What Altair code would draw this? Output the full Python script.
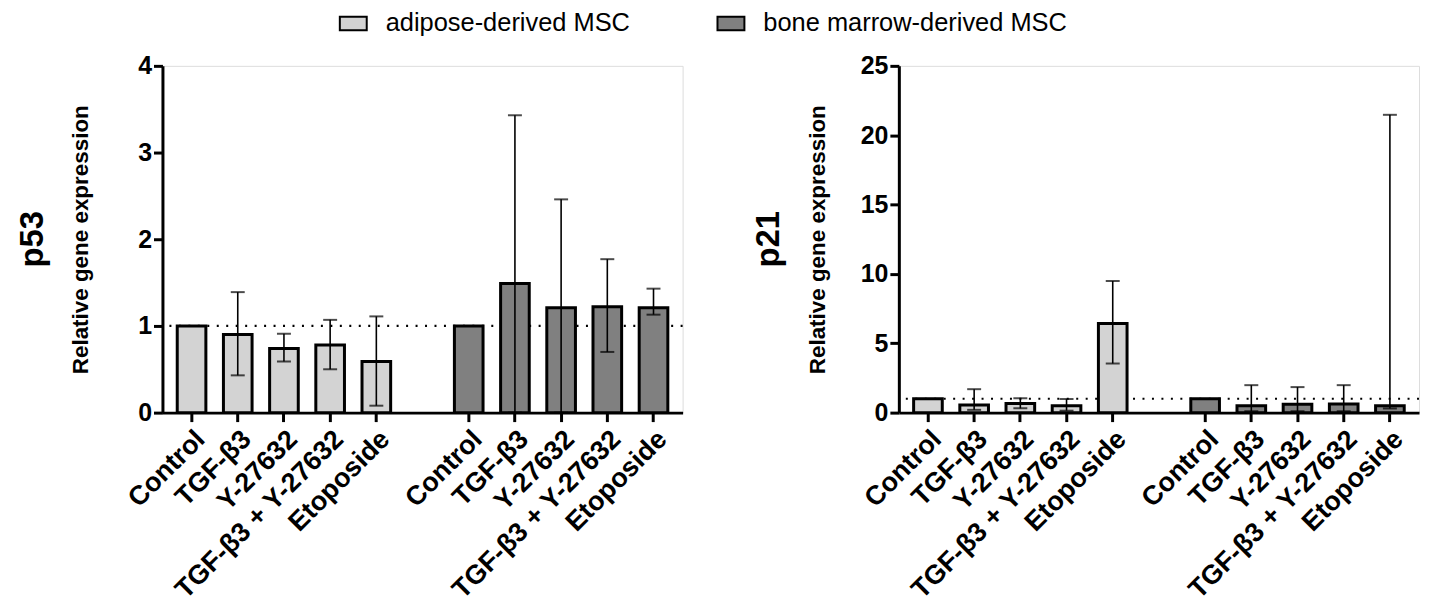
import altair as alt
import pandas as pd

treatments = ["Control", "TGF-β3", "Y-27632", "TGF-β3 + Y-27632", "Etoposide"]
groups = ["adipose-derived MSC", "bone marrow-derived MSC"]

# p53
p53_ad_mean = [1.00, 0.90, 0.74, 0.78, 0.59]
p53_ad_low = [None, 0.43, 0.59, 0.50, 0.08]
p53_ad_high = [None, 1.39, 0.91, 1.07, 1.11]
p53_bm_mean = [1.00, 1.49, 1.21, 1.22, 1.21]
p53_bm_low = [None, 0.00, 0.00, 0.70, 1.13]
p53_bm_high = [None, 3.43, 2.46, 1.77, 1.43]

# p21
p21_ad_mean = [1.00, 0.55, 0.65, 0.50, 6.43]
p21_ad_low = [None, 0.20, 0.31, 0.14, 3.54]
p21_ad_high = [None, 1.69, 1.03, 0.98, 9.49]
p21_bm_mean = [1.00, 0.50, 0.60, 0.62, 0.50]
p21_bm_low = [None, 0.10, 0.10, 0.10, 0.30]
p21_bm_high = [None, 1.98, 1.84, 1.98, 21.47]

p53_ticks = [0, 1, 2, 3, 4]
p21_ticks = [0, 5, 10, 15, 20, 25]

FONT = "Liberation Sans"
keys_a = [f"A|{t}" for t in treatments]
keys_b = [f"B|{t}" for t in treatments]
domain = keys_a + ["gap"] + keys_b
tick_keys = keys_a + keys_b


def make_df(ad_m, ad_l, ad_h, bm_m, bm_l, bm_h):
    rows = []
    for g, p, m, lo, hi in [(groups[0], "A", ad_m, ad_l, ad_h), (groups[1], "B", bm_m, bm_l, bm_h)]:
        for t, mv, lv, hv in zip(treatments, m, lo, hi):
            rows.append({"key": f"{p}|{t}", "group": g, "mean": mv, "low": lv, "high": hv})
    return pd.DataFrame(rows)


W, H = 522, 348


def panel(df, gene, ymax, ticks):
    base = alt.Chart(df)
    x = alt.X(
        "key:N",
        scale=alt.Scale(domain=domain, paddingInner=0.38, paddingOuter=0.32),
        axis=alt.Axis(
            values=tick_keys,
            labelExpr="split(datum.value, '|')[1]",
            labelAngle=-45,
            labelFont=FONT,
            labelFontSize=27,
            labelFontWeight="bold",
            labelColor="black",
            labelPadding=4,
            domainColor="black",
            domainWidth=3,
            tickColor="black",
            tickWidth=3,
            tickSize=9,
            title=None,
            labelLimit=400,
            grid=False,
        ),
    )
    yscale = alt.Scale(domain=[0, ymax], nice=False)
    yaxis = alt.Axis(
        values=ticks,
        format="d",
        title="Relative gene expression",
        titleFont=FONT,
        titleFontSize=22.5,
        titleFontWeight="bold",
        titleColor="black",
        titleX=-82,
        titleY=H / 2,
        titleBaseline="middle",
        titleAlign="center",
        labelFont=FONT,
        labelFontSize=25,
        labelFontWeight="bold",
        labelColor="black",
        labelPadding=2,
        domainColor="black",
        domainWidth=3,
        tickColor="black",
        tickWidth=3,
        tickSize=9,
        grid=False,
    )
    ref = alt.Chart(pd.DataFrame({"ref": [1.0]})).mark_rule(
        color="black", strokeWidth=2.2, strokeDash=[2, 7.5]
    ).encode(y=alt.Y("ref:Q", scale=yscale, axis=yaxis))
    bars = base.mark_bar(stroke="black", strokeWidth=3).encode(
        x=x,
        y=alt.Y("mean:Q", scale=yscale, axis=yaxis),
        color=alt.Color(
            "group:N",
            scale=alt.Scale(domain=groups, range=["#d3d3d3", "#808080"]),
            legend=alt.Legend(
                title=None,
                orient="none",
                legendX=177,
                legendY=-57,
                direction="horizontal",
                symbolType="M-1,-0.5H1V0.5H-1Z",
                symbolSize=729,
                symbolStrokeColor="black",
                symbolStrokeWidth=2,
                labelFont=FONT,
                labelFontSize=25.5,
                labelColor="black",
                labelOffset=18,
                labelLimit=500,
                columnPadding=83,
            ),
        ),
    )
    eb = base.transform_filter("isValid(datum.low)")
    err = eb.mark_rule(color="black", strokeWidth=1.6).encode(
        x=x, y=alt.Y("low:Q", scale=yscale), y2="high:Q"
    )
    cap_hi = eb.mark_tick(color="black", thickness=2, size=14).encode(
        x=x, y=alt.Y("high:Q", scale=yscale)
    )
    cap_lo = eb.mark_tick(color="black", thickness=2, size=14).encode(
        x=x, y=alt.Y("low:Q", scale=yscale)
    )
    return alt.layer(ref, bars, err, cap_hi, cap_lo).properties(
        width=W,
        height=H,
        title=alt.Title(
            gene,
            orient="left",
            anchor="middle",
            frame="group",
            font=FONT,
            fontSize=33,
            fontWeight="bold",
            color="black",
            offset=20,
        ),
    )


df53 = make_df(p53_ad_mean, p53_ad_low, p53_ad_high, p53_bm_mean, p53_bm_low, p53_bm_high)
df21 = make_df(p21_ad_mean, p21_ad_low, p21_ad_high, p21_bm_mean, p21_bm_low, p21_bm_high)

chart = alt.hconcat(
    panel(df53, "p53", 4, p53_ticks),
    panel(df21, "p21", 25, p21_ticks),
    spacing=68,
).properties(
    padding={"left": 8, "top": 0, "right": 0, "bottom": 0}
).configure_view(stroke=None).configure(background="white")

chart.save("out.html", embed_options={"renderer": "svg", "actions": False})
